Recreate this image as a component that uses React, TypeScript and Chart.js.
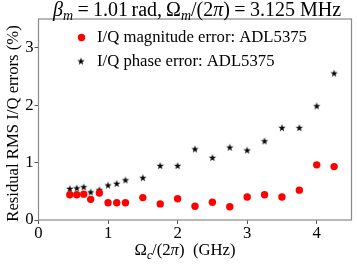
import React, { useEffect, useRef } from 'react';
import { Chart, registerables } from 'chart.js';

Chart.register(...registerables);

const freqGHz = [0.45, 0.55, 0.65, 0.75, 0.875, 1.0, 1.125, 1.25, 1.5, 1.75, 2.0, 2.25, 2.5, 2.75, 3.0, 3.25, 3.5, 3.75, 4.0, 4.25];
const magErr = [0.44, 0.44, 0.45, 0.36, 0.47, 0.30, 0.30, 0.30, 0.39, 0.28, 0.37, 0.24, 0.31, 0.23, 0.40, 0.44, 0.40, 0.52, 0.96, 0.93];
const phaseErr = [0.54, 0.55, 0.57, 0.48, 0.52, 0.60, 0.63, 0.69, 0.73, 0.94, 0.94, 1.23, 1.08, 1.26, 1.21, 1.37, 1.60, 1.60, 1.98, 2.55];
const xTicks = [0, 1, 2, 3, 4];
const yTicks = [0, 1, 2, 3];
const magLabel = 'I/Q magnitude error: ADL5375';
const phaseLabel = 'I/Q phase error: ADL5375';
const yTitle = 'Residual RMS I/Q errors (%)';

type Seg = { t: string; it?: boolean; sub?: boolean; gap?: number };
const titleSegs: Seg[] = [
  { t: 'β', it: true }, { t: 'm', it: true, sub: true }, { t: '', gap: 0.22 }, { t: '=' }, { t: '', gap: 0.22 },
  { t: '1.01' }, { t: '', gap: 0.17 }, { t: 'rad,' }, { t: '', gap: 0.2 },
  { t: 'Ω' }, { t: 'm', it: true, sub: true }, { t: '/(2' }, { t: 'π', it: true }, { t: ')' },
  { t: '', gap: 0.22 }, { t: '=' }, { t: '', gap: 0.22 }, { t: '3.125' }, { t: '', gap: 0.25 }, { t: 'MHz' },
];
const xTitleSegs: Seg[] = [
  { t: 'Ω' }, { t: 'c', it: true, sub: true }, { t: '/(2' }, { t: 'π', it: true }, { t: ')' }, { t: '', gap: 0.5 }, { t: '(GHz)' },
];

const FAMILY = '"Liberation Serif", "DejaVu Serif", serif';
const FS = 16.7;
const TITLE_FS = 20;

function segFont(s: Seg, size: number) {
  const sz = s.sub ? size * 0.7 : size;
  return `${s.it ? 'italic ' : ''}${sz}px ${FAMILY}`;
}

function segWidth(ctx: CanvasRenderingContext2D, s: Seg, size: number) {
  if (s.gap) return s.gap * size;
  ctx.font = segFont(s, size);
  return ctx.measureText(s.t).width;
}

function drawRich(ctx: CanvasRenderingContext2D, segs: Seg[], cx: number, baseline: number, size: number) {
  let total = 0;
  for (const s of segs) total += segWidth(ctx, s, size);
  let x = cx - total / 2;
  ctx.textAlign = 'left';
  ctx.textBaseline = 'alphabetic';
  for (const s of segs) {
    if (!s.gap) {
      ctx.font = segFont(s, size);
      ctx.fillText(s.t, x, baseline + (s.sub ? size * 0.22 : 0));
    }
    x += segWidth(ctx, s, size);
  }
}

function makeStar(R: number, color: string) {
  const size = Math.ceil(R * 2) + 2;
  const c = document.createElement('canvas');
  c.width = size;
  c.height = size;
  const ctx = c.getContext('2d')!;
  const cx = size / 2, cy = size / 2, r = R * 0.382;
  ctx.fillStyle = color;
  ctx.beginPath();
  for (let i = 0; i < 10; i++) {
    const a = -Math.PI / 2 + (i * Math.PI) / 5;
    const rad = i % 2 === 0 ? R : r;
    const px = cx + rad * Math.cos(a), py = cy + rad * Math.sin(a);
    if (i === 0) ctx.moveTo(px, py); else ctx.lineTo(px, py);
  }
  ctx.closePath();
  ctx.fill();
  return c;
}

export default function App() {
  const ref = useRef<HTMLCanvasElement>(null);
  useEffect(() => {
    document.body.style.margin = '0';
    const canvas = ref.current!;
    const star = makeStar(3.9, '#000000');

    const decor = {
      id: 'decor',
      beforeDatasetsDraw(chart: any) {
        const { ctx, chartArea: a } = chart;
        ctx.save();
        ctx.strokeStyle = '#8a8a8a';
        ctx.lineWidth = 1.2;
        ctx.strokeRect(a.left, a.top, a.right - a.left, a.bottom - a.top);
        ctx.restore();
      },
      afterDraw(chart: any) {
        const { ctx } = chart;
        ctx.save();
        ctx.fillStyle = '#000';
        drawRich(ctx, titleSegs, 197, 15.5, TITLE_FS);
        drawRich(ctx, xTitleSegs, 185, 255, FS);
        ctx.save();
        ctx.translate(14, 123.5);
        ctx.rotate(-Math.PI / 2);
        ctx.font = `${FS}px ${FAMILY}`;
        ctx.textAlign = 'center';
        ctx.textBaseline = 'middle';
        ctx.fillText(yTitle, 0, 0);
        ctx.restore();
        // legend
        ctx.fillStyle = '#ff0000';
        ctx.beginPath();
        ctx.arc(81.5, 37.5, 3.7, 0, Math.PI * 2);
        ctx.fill();
        ctx.drawImage(star, 81 - star.width / 2, 61.5 - star.height / 2);
        ctx.fillStyle = '#000';
        ctx.font = `${FS}px ${FAMILY}`;
        ctx.textAlign = 'left';
        ctx.textBaseline = 'middle';
        ctx.fillText(magLabel, 97, 38);
        ctx.fillText(phaseLabel, 97, 62);
        ctx.restore();
      },
    };

    const tickFont = { family: FAMILY, size: FS };
    const chart = new Chart(canvas, {
      type: 'scatter',
      data: {
        datasets: [
          {
            label: magLabel,
            data: freqGHz.map((x, i) => ({ x, y: magErr[i] })),
            backgroundColor: '#ff0000',
            borderWidth: 0,
            pointRadius: 3.7,
            pointStyle: 'circle',
          },
          {
            label: phaseLabel,
            data: freqGHz.map((x, i) => ({ x, y: phaseErr[i] })),
            backgroundColor: '#000',
            borderWidth: 0,
            pointStyle: star as any,
          },
        ],
      },
      options: {
        animation: false,
        responsive: false,
        devicePixelRatio: 1,
        layout: { padding: { left: 0, right: 5.5, top: 19, bottom: 0 } },
        plugins: { legend: { display: false }, tooltip: { enabled: false }, title: { display: false } },
        scales: {
          x: {
            type: 'linear',
            min: 0,
            max: 4.5,
            afterBuildTicks: (s: any) => { s.ticks = xTicks.map((v) => ({ value: v })); },
            afterFit: (s: any) => { s.height = 47; },
            grid: { display: true, drawOnChartArea: false, drawTicks: true, tickLength: 4, color: '#555', lineWidth: 1 },
            border: { display: false },
            ticks: { font: tickFont, color: '#000', padding: 0, maxRotation: 0, autoSkip: false },
          },
          y: {
            type: 'linear',
            min: 0,
            max: 3.5,
            afterBuildTicks: (s: any) => { s.ticks = yTicks.map((v) => ({ value: v })); },
            afterFit: (s: any) => { s.width = 38.5; },
            grid: { display: true, drawOnChartArea: false, drawTicks: true, tickLength: 4, color: '#555', lineWidth: 1 },
            border: { display: false },
            ticks: { font: tickFont, color: '#000', padding: 1, autoSkip: false },
          },
        },
      },
      plugins: [decor],
    });
    return () => chart.destroy();
  }, []);
  return (
    <div style={{ width: 357, height: 267 }}>
      <canvas ref={ref} width={357} height={267} style={{ display: 'block' }} />
    </div>
  );
}
